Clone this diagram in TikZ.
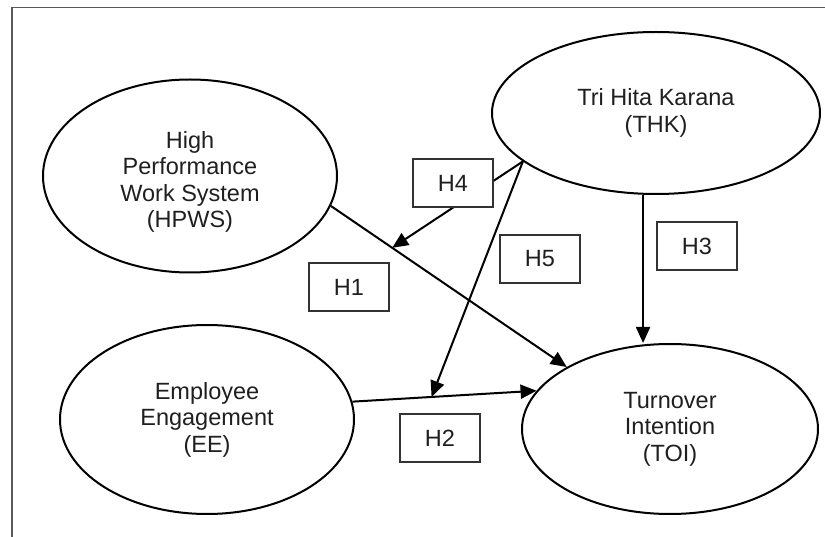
\documentclass[tikz,border=0pt]{standalone}
\usepackage{fontspec}
\setmainfont{Liberation Sans}
\usetikzlibrary{arrows.meta,calc,shapes.geometric}

\begin{document}
\begin{tikzpicture}[x=1pt,y=-1pt,
		var/.style={draw,ellipse,line width=2pt,inner sep=0pt,align=center,text=black!88,font=\fontsize{23.5}{26.5}\selectfont},
		hyp/.style={draw=black!80,fill=white,line width=1.2pt,minimum width=80pt,minimum height=48pt,inner sep=0pt,text=black!88,font=\fontsize{23.5}{26.5}\selectfont},
		arr/.style={line width=2pt,-{Triangle[length=16pt,width=14pt]}}]
		\useasboundingbox (0,0) rectangle (825,537);
		% Cadre
		\draw[black!65,line width=1.2pt] (12,537) -- (12,7.5) -- (825,7.5);

		% Variables
		\node[var,minimum width=294pt,minimum height=193pt] (hpws) at (190,176) {\rule{0pt}{29pt}High\\Performance\\Work System\\(HPWS)};
		\node[var,minimum width=328pt,minimum height=162pt] (thk) at (656,113) {Tri Hita Karana\\(THK)};
		\node[var,minimum width=294pt,minimum height=189pt] (ee) at (207,419.5) {Employee\\Engagement\\(EE)};
		\node[var,minimum width=296pt,minimum height=170pt] (toi) at (670,429) {Turnover\\Intention\\(TOI)};

		% Fleches
		\coordinate (m1) at ($(hpws.-12)!0.26!(toi.149)$);
		\coordinate (m2) at ($(ee.7)!0.43!(toi.164)$);
		\draw[arr] (hpws.-12) -- (toi.149);
		\draw[arr] (ee.7) -- (toi.164);
		\draw[arr] (thk.-99) -- (thk.-99 |- toi.north);
		\draw[arr] (thk.-160) -- (m1);
		\draw[arr] (thk.-160) -- (m2);

		% Hypotheses
		\foreach \n/\x/\y in {1/349/287,2/440/438,3/697/246,4/453/183,5/540/259}{
			\node[hyp] (h\n) at (\x,\y) {H\n};
			}
	\end{tikzpicture}
\end{document}
